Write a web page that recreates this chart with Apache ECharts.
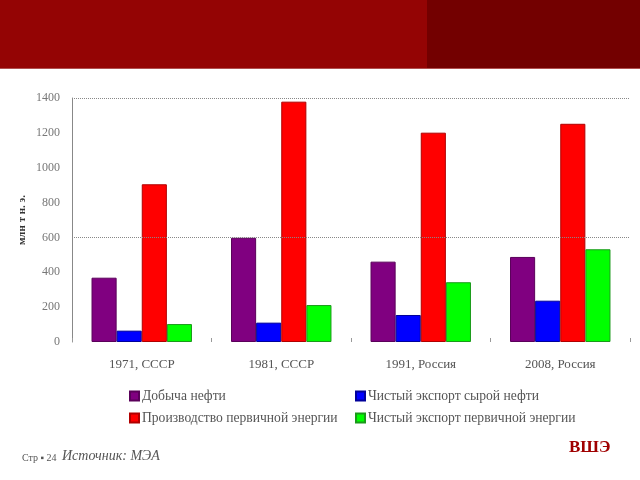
<!DOCTYPE html>
<html><head><meta charset="utf-8">
<script src="https://cdn.jsdelivr.net/npm/echarts@6/dist/echarts.min.js"></script>
<style>html,body{margin:0;padding:0;background:#fff}#c{width:640px;height:480px}</style>
</head><body><div id="c"></div>
<script>
const categories = ['1971, СССР', '1981, СССР', '1991, Россия', '2008, Россия'];
const oilProduction = [369, 598, 461, 488];
const crudeExport = [65, 111, 155, 237];
const primaryEnergy = [905, 1379, 1201, 1252];
const energyExport = [103, 212, 343, 532];
const gridLineValues = [600, 1400];
const yAxisTitle = 'млн т н. э.';
const seriesNames = ['Добыча нефти', 'Чистый экспорт сырой нефти', 'Производство первичной энергии', 'Чистый экспорт первичной энергии'];
const seriesColors = ['#800080', '#0000ff', '#ff0000', '#00ff00'];
const borderColors = ['#5a005a', '#00009a', '#b00000', '#1a9a1a'];
const seriesData = [oilProduction, crudeExport, primaryEnergy, energyExport];

const chart = echarts.init(document.getElementById('c'));
const serif = '"Liberation Serif", "DejaVu Serif", serif';
chart.setOption({
  animation: false,
  grid: {left: 72, right: 10, top: 98, bottom: 138},
  graphic: [
    {type: 'rect', shape: {x: 0, y: 0, width: 427, height: 68}, style: {fill: '#940404'}},
    {type: 'rect', shape: {x: 427, y: 0, width: 213, height: 68}, style: {fill: '#730000'}},
    {type: 'rect', shape: {x: 0, y: 68, width: 640, height: 1}, style: {fill: '#b05050'}},
    {type: 'text', x: 22, y: 220, rotation: Math.PI / 2,
     style: {text: yAxisTitle, font: 'bold 11px ' + serif, fill: '#333', align: 'center', verticalAlign: 'middle'}},
    {type: 'text', left: 22, top: 453, style: {text: 'Стр ▪ 24', font: '10px ' + serif, fill: '#555'}},
    {type: 'text', left: 62, top: 449, style: {text: 'Источник: МЭА', font: 'italic 14px ' + serif, fill: '#555'}},
    {type: 'text', left: 569, top: 439, style: {text: 'ВШЭ', font: 'bold 17px ' + serif, fill: '#a00000'}}
  ],
  legend: [
    {orient: 'vertical', left: 124, top: 384, itemWidth: 9, itemHeight: 9, itemGap: 8, icon: 'rect',
     data: [seriesNames[0], seriesNames[2]],
     textStyle: {fontFamily: serif, fontSize: 13.6, color: '#555', padding: [0, 0, 0, -2]}},
    {orient: 'vertical', left: 350, top: 384, itemWidth: 9, itemHeight: 9, itemGap: 8, icon: 'rect',
     data: [seriesNames[1], seriesNames[3]],
     textStyle: {fontFamily: serif, fontSize: 13.6, color: '#555', padding: [0, 0, 0, -2]}}
  ],
  xAxis: {
    type: 'category', data: categories,
    axisLine: {show: false},
    axisTick: {show: true, alignWithLabel: false, length: -4, lineStyle: {color: '#999'}},
    axisLabel: {fontFamily: serif, fontSize: 13, color: '#555', margin: 16}
  },
  yAxis: {
    type: 'value', min: 0, max: 1400, interval: 200,
    axisLine: {show: true, lineStyle: {color: '#888'}},
    axisTick: {show: false},
    axisLabel: {fontFamily: serif, fontSize: 12, color: '#777', margin: 12, formatter: v => String(v)},
    splitLine: {show: false}
  },
  series: seriesData.map((d, i) => ({
    name: seriesNames[i], type: 'bar', data: d,
    barGap: '0%', barCategoryGap: '28%',
    itemStyle: {color: seriesColors[i], borderColor: borderColors[i], borderWidth: 1},
    markLine: i === 0 ? {silent: true, symbol: 'none', label: {show: false},
      lineStyle: {color: '#888', type: 'dotted', width: 1},
      data: gridLineValues.map(v => ({yAxis: v}))} : undefined
  }))
});
</script></body></html>
